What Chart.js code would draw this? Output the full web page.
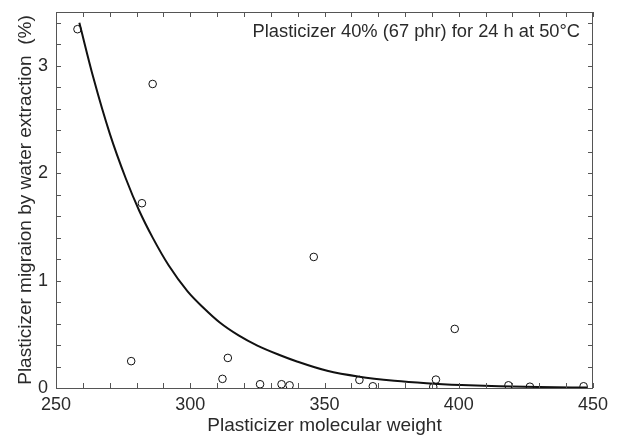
<!DOCTYPE html>
<html>
<head>
<meta charset="utf-8">
<script src="https://cdn.jsdelivr.net/npm/chart.js@4.4.1/dist/chart.umd.min.js"></script>
<style>
    html, body { margin: 0; padding: 0; background: #fff; }
    #wrap { width: 622px; height: 437px; }
</style>
</head>
<body>
<div id="wrap"><canvas id="migChart" width="622" height="437"></canvas></div>
<script>
// measured points (molecular weight vs migration %)
var mwX = [258, 278, 282, 286, 312, 314, 326, 334, 337, 346, 363, 368, 390.5, 391.5, 398.5, 418.5, 426.5, 446.5];
var migY = [3.34, 0.25, 1.72, 2.83, 0.085, 0.28, 0.035, 0.035, 0.025, 1.22, 0.075, 0.016, 0.01, 0.078, 0.55, 0.025, 0.012, 0.016];

// fitted curve
var fitX = [258.7, 264, 270, 276, 281, 286, 292, 299, 305, 311, 318, 325, 333, 340, 351, 363, 376, 388, 401, 415, 430, 448];
var fitY = [3.40, 2.88, 2.37, 1.95, 1.65, 1.40, 1.14, 0.90, 0.745, 0.61, 0.49, 0.395, 0.31, 0.245, 0.16, 0.105, 0.068, 0.045, 0.028, 0.016, 0.009, 0.004];

var xLabels = [250, 300, 350, 400, 450];
var yLabels = [0, 1, 2, 3];
var noteText = 'Plasticizer 40% (67 phr) for 24 h at 50°C';

var txtColor = '#2a2a2a';
var fontFam = '"Liberation Sans", Arial, sans-serif';

function toPts(xs, ys) {
    var out = [];
    for (var i = 0; i < xs.length; i++) out.push({ x: xs[i], y: ys[i] });
    return out;
}

function noPad(s) {
    s.paddingTop = 0; s.paddingBottom = 0;
    s.paddingLeft = 0; s.paddingRight = 0;
}

// frame + inward ticks on all four sides, plus the note
var framePlugin = {
    id: 'frame',
    afterDraw: function(chart) {
        var ctx = chart.ctx, a = chart.chartArea;
        var xs = chart.scales.x, ys = chart.scales.y;
        ctx.save();
        ctx.strokeStyle = '#555';
        ctx.lineWidth = 1;
        ctx.strokeRect(a.left + 0.5, a.top + 0.5, a.right - a.left - 1, a.bottom - a.top);
        ctx.beginPath();
        xs.ticks.forEach(function(t) {
            var px = Math.round(xs.getPixelForValue(t.value)) + 0.5;
            ctx.moveTo(px, a.bottom); ctx.lineTo(px, a.bottom - 5);
            ctx.moveTo(px, a.top); ctx.lineTo(px, a.top + 5);
        });
        ys.ticks.forEach(function(t) {
            var py = Math.round(ys.getPixelForValue(t.value)) + 0.5;
            ctx.moveTo(a.left, py); ctx.lineTo(a.left + 5, py);
            ctx.moveTo(a.right, py); ctx.lineTo(a.right - 5, py);
        });
        ctx.stroke();
        ctx.fillStyle = txtColor;
        ctx.font = '18.3px ' + fontFam;
        ctx.textAlign = 'right';
        ctx.textBaseline = 'middle';
        ctx.fillText(noteText, a.right - 13, a.top + 20);
        ctx.restore();
    }
};

var ctx = document.getElementById('migChart');
var chart = new Chart(ctx, {
    type: 'scatter',
    data: {
        datasets: [
            {
                label: 'fit',
                type: 'line',
                data: toPts(fitX, fitY),
                borderColor: '#111',
                borderWidth: 2,
                pointRadius: 0,
                fill: false,
                cubicInterpolationMode: 'monotone'
            },
            {
                label: 'data',
                data: toPts(mwX, migY),
                pointRadius: 3.8,
                pointBorderWidth: 1,
                pointBorderColor: '#111',
                pointBackgroundColor: 'rgba(255,255,255,0)'
            }
        ]
    },
    options: {
        responsive: false,
        animation: false,
        layout: { padding: { top: 12, right: 29, left: 0, bottom: 0 } },
        plugins: {
            legend: { display: false },
            tooltip: { enabled: false }
        },
        scales: {
            x: {
                type: 'linear',
                min: 250,
                max: 450,
                afterBuildTicks: function(s) {
                    var t = [];
                    for (var v = 250; v <= 450; v += 10) t.push({ value: v });
                    s.ticks = t;
                },
                afterFit: function(s) { s.height = 49; noPad(s); },
                grid: { display: false, drawTicks: false },
                border: { display: false },
                ticks: {
                    autoSkip: false,
                    maxRotation: 0,
                    padding: 6,
                    color: txtColor,
                    font: { size: 18, family: fontFam },
                    callback: function(v) { return xLabels.indexOf(v) >= 0 ? String(v) : ''; }
                },
                title: {
                    display: true,
                    text: 'Plasticizer molecular weight',
                    color: txtColor,
                    font: { size: 19, family: fontFam },
                    padding: { top: 0, bottom: 0 }
                }
            },
            y: {
                type: 'linear',
                min: 0,
                max: 3.5,
                afterBuildTicks: function(s) {
                    var t = [];
                    for (var i = 0; i <= 17; i++) t.push({ value: Math.round(i * 2) / 10 });
                    s.ticks = t;
                },
                afterFit: function(s) { s.width = 56; noPad(s); },
                grid: { display: false, drawTicks: false },
                border: { display: false },
                ticks: {
                    autoSkip: false,
                    padding: 8,
                    color: txtColor,
                    font: { size: 18, family: fontFam },
                    callback: function(v) { return yLabels.indexOf(v) >= 0 ? String(v) : ''; }
                },
                title: {
                    display: true,
                    text: 'Plasticizer migraion by water extraction  (%)',
                    color: txtColor,
                    font: { size: 19, family: fontFam },
                    padding: { top: 14, bottom: 0 }
                }
            }
        }
    },
    plugins: [framePlugin]
});
</script>
</body>
</html>
